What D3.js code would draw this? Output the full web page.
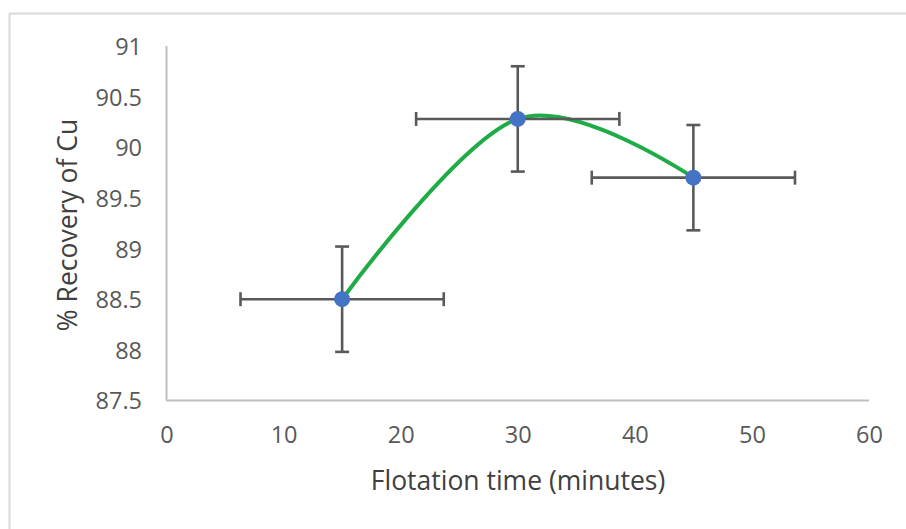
<!DOCTYPE html>
<html><head><meta charset="utf-8">
<script src="https://cdn.jsdelivr.net/npm/d3@7/dist/d3.min.js"></script>
<style>body{margin:0;background:#fff}svg{display:block}</style>
</head><body>
<svg id="c" width="906" height="529"></svg>
<script>
const times = [15, 30, 45];
const recovery = [88.5, 90.28, 89.7];
const yErr = [0.52, 0.52, 0.52];
const xErr = [8.68, 8.68, 8.68];
const xTicks = [0, 10, 20, 30, 40, 50, 60];
const yTicks = [87.5, 88, 88.5, 89, 89.5, 90, 90.5, 91];
const xTitle = "Flotation time (minutes)";
const yTitle = "% Recovery of Cu";

const svg = d3.select("#c");
const font = "'Open Sans', sans-serif";
svg.append("rect").attr("x",9.5).attr("y",13.5).attr("width",910).attr("height",530)
  .attr("fill","#fff").attr("stroke","#d9d9d9").attr("stroke-width",2);

const x = d3.scaleLinear().domain([0,60]).range([166.5,869]);
const y = d3.scaleLinear().domain([87.5,91]).range([400.5,46]);

svg.append("line").attr("x1",x(0)).attr("x2",x(0)).attr("y1",y(91)).attr("y2",y(87.5))
  .attr("stroke","#bfbfbf").attr("stroke-width",2);
svg.append("line").attr("x1",x(0)).attr("x2",x(60)).attr("y1",y(87.5)).attr("y2",y(87.5))
  .attr("stroke","#bfbfbf").attr("stroke-width",2);

const xa = d3.axisBottom(x).tickValues(xTicks).tickSize(0).tickPadding(0).tickFormat(d3.format("d"));
const gx = svg.append("g").attr("transform",`translate(0,${y(87.5)+42.5})`).call(xa);
gx.select(".domain").remove();
gx.selectAll("text").attr("font-family",font).attr("font-size",23.5).attr("fill","#595959").attr("dy","0");

const ya = d3.axisLeft(y).tickValues(yTicks).tickSize(0).tickPadding(0).tickFormat(d=>String(d));
const gy = svg.append("g").attr("transform",`translate(142,0)`).call(ya);
gy.select(".domain").remove();
gy.selectAll("text").attr("font-family",font).attr("font-size",23.5).attr("fill","#595959").attr("dy","0.36em");

svg.append("text").attr("x",518).attr("y",490).attr("text-anchor","middle")
  .attr("font-family",font).attr("font-size",26.5).attr("fill","#404040").text(xTitle);
svg.append("text").attr("transform","translate(77,225) rotate(-90)").attr("text-anchor","middle")
  .attr("font-family",font).attr("font-size",26.5).attr("fill","#404040").text(yTitle);

const data = times.map((t,i)=>({t, r:recovery[i], ex:xErr[i], ey:yErr[i]}));

const line = d3.line().x(d=>x(d.t)).y(d=>y(d.r)).curve(d3.curveCardinal.tension(0));
svg.append("path").datum(data).attr("d",line).attr("fill","none")
  .attr("stroke","#1fab45").attr("stroke-width",4);

const eb = svg.append("g").attr("stroke","#595959").attr("stroke-width",2.6);
const cap = 7;
data.forEach(d=>{
  eb.append("line").attr("x1",x(d.t-d.ex)).attr("x2",x(d.t+d.ex)).attr("y1",y(d.r)).attr("y2",y(d.r));
  eb.append("line").attr("x1",x(d.t-d.ex)).attr("x2",x(d.t-d.ex)).attr("y1",y(d.r)-cap).attr("y2",y(d.r)+cap);
  eb.append("line").attr("x1",x(d.t+d.ex)).attr("x2",x(d.t+d.ex)).attr("y1",y(d.r)-cap).attr("y2",y(d.r)+cap);
  eb.append("line").attr("x1",x(d.t)).attr("x2",x(d.t)).attr("y1",y(d.r-d.ey)).attr("y2",y(d.r+d.ey));
  eb.append("line").attr("x1",x(d.t)-cap).attr("x2",x(d.t)+cap).attr("y1",y(d.r-d.ey)).attr("y2",y(d.r-d.ey));
  eb.append("line").attr("x1",x(d.t)-cap).attr("x2",x(d.t)+cap).attr("y1",y(d.r+d.ey)).attr("y2",y(d.r+d.ey));
});

svg.append("g").selectAll("circle").data(data).join("circle")
  .attr("cx",d=>x(d.t)).attr("cy",d=>y(d.r)).attr("r",8).attr("fill","#4472c4");
</script>
</body></html>
